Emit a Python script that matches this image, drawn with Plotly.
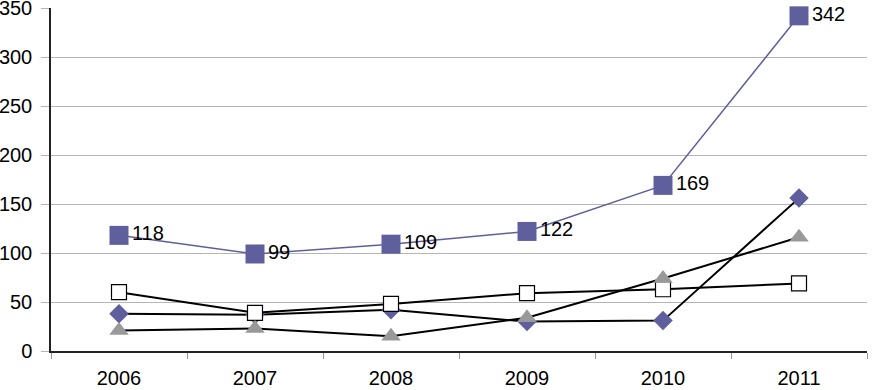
import plotly.graph_objects as go

years = ["2006", "2007", "2008", "2009", "2010", "2011"]
total = [118, 99, 109, 122, 169, 342]
diamond_vals = [38, 37, 42, 30, 31, 156]
open_sq_vals = [60, 39, 48, 59, 63, 69]
triangle_vals = [21, 23, 15, 34, 74, 116]
y_ticks = [0, 50, 100, 150, 200, 250, 300, 350]

purple = "#5F5F9E"
fig = go.Figure()
fig.add_trace(go.Scatter(x=years, y=diamond_vals, mode="lines+markers",
    line=dict(color="black", width=2),
    marker=dict(symbol="diamond", size=15, color=purple, line=dict(width=0))))
fig.add_trace(go.Scatter(x=years, y=open_sq_vals, mode="lines+markers",
    line=dict(color="black", width=2),
    marker=dict(symbol="square", size=15, color="white", line=dict(color="black", width=1.2))))
fig.add_trace(go.Scatter(x=years, y=triangle_vals, mode="lines+markers",
    line=dict(color="black", width=2),
    marker=dict(symbol="triangle-up", size=17, color="#999999", line=dict(width=0))))
fig.add_trace(go.Scatter(x=years, y=total, mode="lines+markers+text",
    line=dict(color=purple, width=1.5),
    marker=dict(symbol="square", size=19, color=purple, line=dict(width=0)),
    text=[str(v) for v in total], textposition="middle right",
    textfont=dict(family="Liberation Sans, Arial", size=20, color="black"),
    cliponaxis=False))

fig.update_layout(
    width=879, height=390, showlegend=False,
    margin=dict(l=51, r=12, t=8, b=39, autoexpand=False),
    plot_bgcolor="white", paper_bgcolor="white",
    font=dict(family="Liberation Sans, Arial", size=20, color="black"),
)
fig.update_xaxes(type="category", tickson="boundaries", ticks="outside", ticklen=6,
    tickcolor="#999999", showline=True, linecolor="#222222", linewidth=2,
    showgrid=False, tickfont=dict(size=20), range=[-0.5, 5.5], automargin=False,
    ticklabelstandoff=8)
fig.update_yaxes(range=[0, 350], tickvals=y_ticks, ticks="outside", ticklen=8,
    tickcolor="#B5B5B5", showline=True, linecolor="#222222", linewidth=1.5,
    showgrid=True, gridcolor="#B5B5B5", gridwidth=1, zeroline=False,
    tickfont=dict(size=20), ticklabelstandoff=5, automargin=False,
    ticklabeloverflow="allow")
fig.write_html("out.html", config={"displayModeBar": False},
    post_script="document.body.style.margin='0';document.body.style.overflow='hidden';")
